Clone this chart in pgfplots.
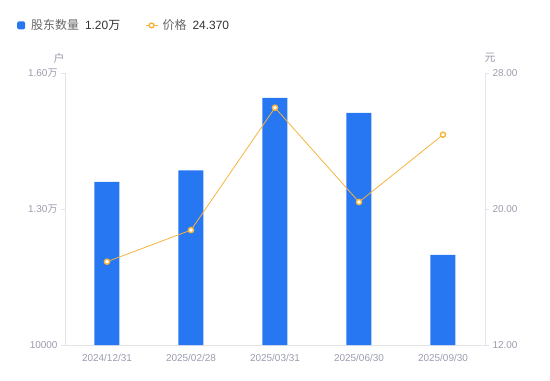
\documentclass[border=0pt]{standalone}
\usepackage{fontspec}
\setmainfont{Liberation Sans}
\newfontfamily\cjk{Noto Sans CJK SC}
\usepackage{pgfplots}
\pgfplotsset{compat=1.18}
\definecolor{barblue}{HTML}{2677F1}
\definecolor{lineorange}{HTML}{F7B43C}
\definecolor{ticktext}{HTML}{9A9CAE}
\definecolor{axisgray}{HTML}{E3E3E8}
\definecolor{legtext}{HTML}{666666}
\definecolor{legval}{HTML}{333333}
\pgfplotsset{
  common/.style={
    scale only axis, width=420bp, height=272bp,
    xmin=-0.5, xmax=4.5,
    at={(0bp,0bp)}, anchor=south west,
    /pgf/number format/assume math mode=true,
    tick label style={font=\fontsize{10}{12}\selectfont, text=ticktext},
    axis line style={draw=axisgray, line width=0.8bp},
    major tick style={draw=axisgray, line width=0.8bp},
    tick align=outside, major tick length=4bp,
    clip=false,
  }
}
\begin{document}
\begin{tikzpicture}
\useasboundingbox (-65bp,-36bp) rectangle (485bp,345bp);
\begin{axis}[common,
  axis x line*=bottom, axis y line*=left,
  ymin=10000, ymax=16000,
  ytick={10000,13000,16000},
  yticklabels={10000,1.30{\cjk 万},1.60{\cjk 万}},
  scaled y ticks=false,
  xtick={0,1,2,3,4},
  xticklabels={2024/12/31,2025/02/28,2025/03/31,2025/06/30,2025/09/30},
  x tick style={draw=none},
  xticklabel style={yshift=-2bp},
  ybar, bar width=25bp,
]
\addplot[fill=barblue, draw=none] coordinates {(0,13600) (1,13850) (2,15450) (3,15120) (4,11990)};
\node[font=\cjk\fontsize{11}{13}\selectfont, text=ticktext, xshift=-6bp, yshift=15bp] at (rel axis cs:0,1) {户};
\end{axis}
\begin{axis}[common,
  axis x line=none, axis y line*=right,
  ymin=12, ymax=28,
  ytick={12,20,28},
  yticklabel style={/pgf/number format/.cd, fixed, fixed zerofill, precision=2},
  legend style={at={(-0.1143,1.175)}, anchor=west, draw=none, fill=none,
    font=\fontsize{12}{14}\selectfont, text=legtext, inner sep=0pt},
  legend columns=2,
  /tikz/every even column/.append style={column sep=23bp},
]
\addlegendimage{legend image code/.code={\fill[barblue, draw=none, rounded corners=1.5bp] (0bp,-4bp) rectangle (8bp,4bp); \path[draw=none, fill=none] (0bp,0bp) -- (12bp,0bp);}}
\addlegendentry{{\cjk 股东数量}\hspace{6bp}\textcolor{legval}{1.20{\cjk 万}}}
\addplot[lineorange, line width=0.8bp, mark=*, mark size=2.6bp,
  mark options={fill=white, draw=lineorange, line width=1.4bp},
  legend image code/.code={\draw[lineorange, line width=0.8bp] (0bp,0bp) -- (12bp,0bp); \draw[lineorange, fill=white, line width=1.4bp] (6bp,0bp) circle (2.4bp); \path[draw=none, fill=none] (0bp,0bp) -- (15bp,0bp);}]
  coordinates {(0,16.90) (1,18.76) (2,25.96) (3,20.41) (4,24.37)};
\addlegendentry{{\cjk 价格}\hspace{6bp}\textcolor{legval}{24.370}}
\node[font=\cjk\fontsize{11}{13}\selectfont, text=ticktext, xshift=5bp, yshift=15bp] at (rel axis cs:1,1) {元};
\end{axis}
\end{tikzpicture}
\end{document}
